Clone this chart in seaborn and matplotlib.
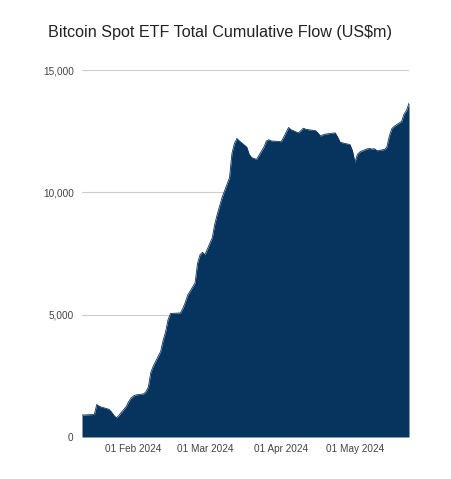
import pandas as pd
import numpy as np
import matplotlib
matplotlib.use("Agg")
import matplotlib.pyplot as plt
import matplotlib.dates as mdates
from matplotlib.ticker import FuncFormatter
import seaborn as sns

# ---- data (US$m, trading days) ----
dates = [
    "2024-01-11", "2024-01-12", "2024-01-16", "2024-01-17", "2024-01-18", "2024-01-19",
    "2024-01-22", "2024-01-23", "2024-01-24", "2024-01-25", "2024-01-26",
    "2024-01-29", "2024-01-30", "2024-01-31", "2024-02-01", "2024-02-02",
    "2024-02-05", "2024-02-06", "2024-02-07", "2024-02-08", "2024-02-09",
    "2024-02-12", "2024-02-13", "2024-02-14", "2024-02-15", "2024-02-16",
    "2024-02-20", "2024-02-21", "2024-02-22", "2024-02-23",
    "2024-02-26", "2024-02-27", "2024-02-28", "2024-02-29", "2024-03-01",
    "2024-03-04", "2024-03-05", "2024-03-06", "2024-03-07", "2024-03-08",
    "2024-03-11", "2024-03-12", "2024-03-13", "2024-03-14", "2024-03-15",
    "2024-03-18", "2024-03-19", "2024-03-20", "2024-03-21", "2024-03-22",
    "2024-03-25", "2024-03-26", "2024-03-27", "2024-03-28",
    "2024-04-01", "2024-04-02", "2024-04-03", "2024-04-04", "2024-04-05",
    "2024-04-08", "2024-04-09", "2024-04-10", "2024-04-11", "2024-04-12",
    "2024-04-15", "2024-04-16", "2024-04-17", "2024-04-18", "2024-04-19",
    "2024-04-22", "2024-04-23", "2024-04-24", "2024-04-25", "2024-04-26",
    "2024-04-29", "2024-04-30", "2024-05-01", "2024-05-02", "2024-05-03",
    "2024-05-06", "2024-05-07", "2024-05-08", "2024-05-09", "2024-05-10",
    "2024-05-13", "2024-05-14", "2024-05-15", "2024-05-16", "2024-05-17",
    "2024-05-20", "2024-05-21", "2024-05-22", "2024-05-23",
]
flow = [
    900, 900, 920, 1330, 1250, 1220,
    1130, 1020, 880, 780, 880,
    1250, 1450, 1600, 1680, 1720,
    1760, 1850, 2050, 2650, 2900,
    3500, 3950, 4300, 4800, 5050,
    5070, 5250, 5500, 5800,
    6300, 7100, 7450, 7550, 7450,
    8150, 8700, 9100, 9450, 9800,
    10600, 11600, 12000, 12200, 12100,
    11850, 11550, 11420, 11380, 11350,
    11850, 12100, 12150, 12100,
    12070, 12250, 12450, 12650, 12560,
    12430, 12520, 12620, 12580, 12560,
    12520, 12420, 12300, 12350, 12380,
    12420, 12430, 12250, 12050, 12020,
    11950, 11700, 11230, 11550, 11650,
    11780, 11790, 11770, 11780, 11700,
    11750, 11850, 12300, 12600, 12700,
    12900, 13200, 13350, 13650,
]
tick_dates = ["2024-02-01", "2024-03-01", "2024-04-01", "2024-05-01"]
y_ticks = [0, 5000, 10000, 15000]

df = pd.DataFrame({"date": pd.to_datetime(dates), "flow": flow})
navy = "#07345f"

sns.set_theme(style="white")
plt.rcParams["font.family"] = ["Liberation Sans", "DejaVu Sans"]

fig = plt.figure(figsize=(4.52, 4.79), dpi=100)
ax = fig.add_axes([82 / 452, 1 - 437 / 479, (409 - 82) / 452, (437 - 70) / 479])

sns.lineplot(data=df, x="date", y="flow", ax=ax, color=navy, linewidth=0.6)
ax.fill_between(df["date"], 0, df["flow"], color=navy, linewidth=0, zorder=2)

ax.set_xlim(df["date"].iloc[0], df["date"].iloc[-1])
ax.set_ylim(0, 15000)
ax.set_yticks(y_ticks)
ax.yaxis.set_major_formatter(FuncFormatter(lambda v, p: f"{int(v):,}"))
ax.set_xticks(pd.to_datetime(tick_dates))
ax.xaxis.set_major_formatter(mdates.DateFormatter("%d %b %Y"))

ax.grid(axis="y", color="#cccccc", linewidth=0.8)
ax.set_axisbelow(True)
for s in ax.spines.values():
    s.set_visible(False)
ax.tick_params(axis="both", length=0, labelsize=7.2, colors="#444444")
ax.tick_params(axis="y", pad=6)
ax.tick_params(axis="x", pad=5)
ax.set_xlabel("")
ax.set_ylabel("")

fig.text(48 / 452, 1 - 33 / 479, "Bitcoin Spot ETF Total Cumulative Flow (US$m)",
         fontsize=11.6, color="#222222", va="center", ha="left")

fig.savefig("out.png", dpi=100)
